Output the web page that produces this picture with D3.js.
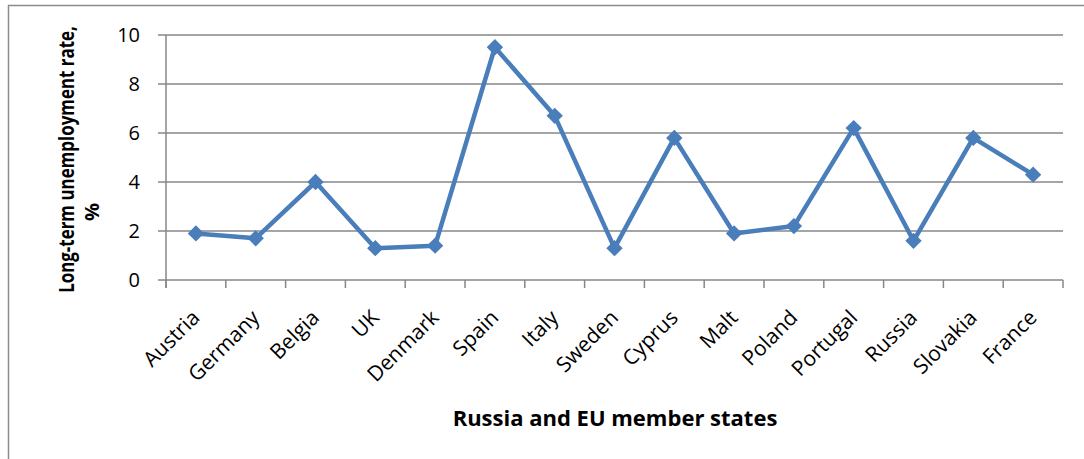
<!DOCTYPE html>
<html>
<head>
<meta charset="utf-8">
<script src="https://cdn.jsdelivr.net/npm/d3@7"></script>
<style>
  body { margin: 0; background: #fff; }
  svg { display: block; font-family: "Open Sans", "Noto Sans", sans-serif; }
</style>
</head>
<body>
<svg id="chart" width="1084" height="459"></svg>
<script>
// chart data
const countries = ["Austria", "Germany", "Belgia", "UK", "Denmark", "Spain", "Italy", "Sweden",
  "Cyprus", "Malt", "Poland", "Portugal", "Russia", "Slovakia", "France"];
const rates = [1.9, 1.7, 4.0, 1.3, 1.4, 9.5, 6.7, 1.3, 5.8, 1.9, 2.2, 6.2, 1.6, 5.8, 4.3];
const yTicks = [0, 2, 4, 6, 8, 10];

const svg = d3.select('#chart');
const width = +svg.attr('width');
const height = +svg.attr('height');

const plot = { left: 166, right: 1063, top: 35, bottom: 280 };
const gridColor = '#878787';
const lineColor = '#4a7ebb';

// outer frame (only left and top edges are visible in the crop)
svg.append('path')
  .attr('d', `M8.5,${height} L8.5,5.5 L${width},5.5`)
  .attr('fill', 'none')
  .attr('stroke', '#8c8c8c')
  .attr('stroke-width', 1.5);

const x = d3.scaleBand()
  .domain(countries)
  .range([plot.left, plot.right]);

const y = d3.scaleLinear()
  .domain([0, 10])
  .range([plot.bottom, plot.top]);

// horizontal gridlines
svg.append('g')
  .selectAll('line')
  .data(yTicks)
  .enter()
  .append('line')
  .attr('x1', plot.left - 8)
  .attr('x2', plot.right)
  .attr('y1', d => y(d))
  .attr('y2', d => y(d))
  .attr('stroke', gridColor)
  .attr('stroke-width', 1.5);

// y axis line
svg.append('line')
  .attr('x1', plot.left).attr('x2', plot.left)
  .attr('y1', plot.top).attr('y2', plot.bottom + 8)
  .attr('stroke', gridColor)
  .attr('stroke-width', 1.5);

// y tick labels
svg.append('g')
  .selectAll('text')
  .data(yTicks)
  .enter()
  .append('text')
  .attr('x', 140)
  .attr('y', d => y(d))
  .attr('dy', '0.36em')
  .attr('text-anchor', 'end')
  .style('font-size', '20px')
  .text(d => d);

// x tick marks at category boundaries
const boundaries = countries.map(c => x(c)).concat([plot.right]);
svg.append('g')
  .selectAll('line')
  .data(boundaries)
  .enter()
  .append('line')
  .attr('x1', d => d).attr('x2', d => d)
  .attr('y1', plot.bottom).attr('y2', plot.bottom + 8)
  .attr('stroke', gridColor)
  .attr('stroke-width', 1.5);

// x category labels rotated -45
svg.append('g')
  .selectAll('text')
  .data(countries)
  .enter()
  .append('text')
  .attr('transform', d => `translate(${x(d) + x.bandwidth() / 2 + 5},${plot.bottom + 39}) rotate(-45)`)
  .attr('text-anchor', 'end')
  .style('font-size', '21px')
  .text(d => d);

// data line
const line = d3.line()
  .x((d, i) => x(countries[i]) + x.bandwidth() / 2)
  .y(d => y(d));

svg.append('path')
  .datum(rates)
  .attr('d', line)
  .attr('fill', 'none')
  .attr('stroke', lineColor)
  .attr('stroke-width', 4.5)
  .attr('stroke-linejoin', 'round');

// diamond markers
svg.append('g')
  .selectAll('path')
  .data(rates)
  .enter()
  .append('path')
  .attr('d', d3.symbol().type(d3.symbolDiamond2).size(170))
  .attr('transform', (d, i) => `translate(${x(countries[i]) + x.bandwidth() / 2},${y(d)})`)
  .attr('fill', lineColor);

// axis titles (y title squeezed to mimic the narrow original face)
svg.append('text')
  .attr('transform', `translate(74,${(plot.top + plot.bottom) / 2 + 2}) rotate(-90) scale(0.77,1)`)
  .attr('text-anchor', 'middle')
  .style('font-size', '22px')
  .style('font-weight', 'bold')
  .text('Long-term unemployment rate,');

svg.append('text')
  .attr('transform', 'translate(99,212) rotate(-90)')
  .attr('text-anchor', 'middle')
  .style('font-size', '20px')
  .style('font-weight', 'bold')
  .text('%');

svg.append('text')
  .attr('x', 615)
  .attr('y', 426)
  .attr('text-anchor', 'middle')
  .style('font-size', '22px')
  .style('font-weight', 'bold')
  .text('Russia and EU member states');
</script>
</body>
</html>
